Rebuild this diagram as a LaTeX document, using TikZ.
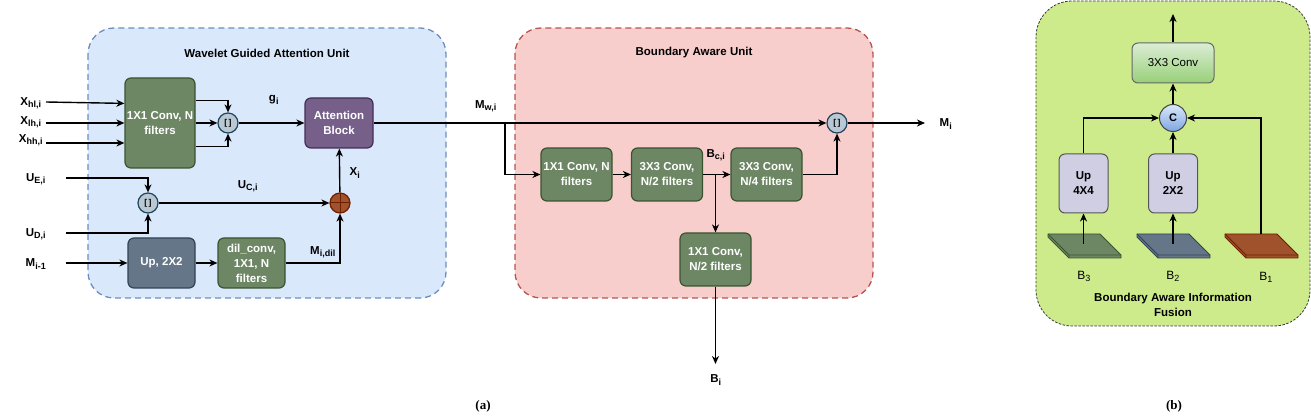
\documentclass[tikz,border=0pt]{standalone}
\usepackage{fontspec}
\setmainfont{Liberation Sans}
\newfontfamily\capfont{Liberation Serif}
\usetikzlibrary{arrows.meta,calc}
\definecolor{bluefill}{HTML}{DAE8FC}
\definecolor{bluestroke}{HTML}{6C8EBF}
\definecolor{redfill}{HTML}{F8CECC}
\definecolor{redstroke}{HTML}{B85450}
\definecolor{limefill}{HTML}{CDEB8B}
\definecolor{limestroke}{HTML}{36393D}
\definecolor{gfill}{HTML}{6D8764}
\definecolor{gstroke}{HTML}{3A5431}
\definecolor{pfill}{HTML}{76608A}
\definecolor{pstroke}{HTML}{432D57}
\definecolor{sfill}{HTML}{647687}
\definecolor{sstroke}{HTML}{314354}
\definecolor{cfill}{HTML}{BAC8D3}
\definecolor{cstroke}{HTML}{23445D}
\definecolor{ofill}{HTML}{A0522D}
\definecolor{ostroke}{HTML}{6D1F00}
\definecolor{lfill}{HTML}{D0CEE2}
\definecolor{lstroke}{HTML}{555555}
\definecolor{convtop}{HTML}{DCEDD6}
\definecolor{convbot}{HTML}{97D077}
\definecolor{convstroke}{HTML}{666666}
\definecolor{balltop}{HTML}{DAE8FC}
\definecolor{ballbot}{HTML}{7EA6E0}
\definecolor{ballstroke}{HTML}{444444}
\tikzset{
  cont/.style={line width=1.3pt, dash pattern=on 6pt off 4pt, rounded corners=26pt},
  blk/.style={rounded corners=6pt, draw, line width=1.2pt, inner sep=0pt, align=center,
     font=\fontsize{11.5}{15}\selectfont\bfseries, text=white},
  gbox/.style={blk, fill=gfill, draw=gstroke},
  rbox/.style={gbox, minimum width=71pt, minimum height=53pt},
  pbox/.style={blk, fill=pfill, draw=pstroke},
  sbox/.style={blk, fill=sfill, draw=sstroke},
  lbox/.style={blk, fill=lfill, draw=lstroke, line width=1pt, text=black, minimum width=49pt, minimum height=59pt, font=\fontsize{11.5}{15}\selectfont\bfseries},
  cat/.style={circle, draw=cstroke, fill=cfill, line width=1.2pt, minimum size=20pt, inner sep=0pt,
     font=\fontsize{8.5}{8.5}\selectfont\bfseries},
  oplus/.style={circle, draw=ostroke, fill=ofill, line width=1.2pt, minimum size=20pt, inner sep=0pt,
     path picture={\draw[ostroke, line width=1pt] (path picture bounding box.north) -- (path picture bounding box.south)
       (path picture bounding box.west) -- (path picture bounding box.east);}},
  lab/.style={font=\fontsize{11.5}{13}\selectfont\bfseries, inner sep=0pt},
  arr/.style={line width=1.4pt, -{Stealth[length=8pt,width=7pt,inset=2.5pt]}},
}
\newcommand{\sbs}[1]{\textsubscript{\fontsize{9}{10}\selectfont #1}}
\begin{document}
\begin{tikzpicture}[x=1pt,y=-1pt]
\useasboundingbox (0,0) rectangle (1311,419);
% containers
\draw[cont, draw=bluestroke, fill=bluefill] (88,28) rectangle (446,298);
\draw[cont, draw=redstroke, fill=redfill] (515,28) rectangle (873,298);
\draw[line width=0.8pt, dash pattern=on 2.5pt off 1.5pt, rounded corners=36pt, draw=limestroke, fill=limefill] (1036,1) rectangle (1310,326);
\node[lab] (t1) at (267,53) {Wavelet Guided Attention Unit};
\node[lab] (t2) at (694,53) {Boundary Aware Unit};
% ---- wavelet unit
\node[gbox, minimum width=70pt, minimum height=90pt] (c1) at (160,123) {1X1 Conv, N\\filters};
\node[cat] (cat1) at (228,123) {[\,]};
\node[pbox, minimum width=68pt, minimum height=50pt] (att) at (339,123) {Attention\\Block};
\node[cat] (cat2) at (148,203) {[\,]};
\node[oplus] (op) at (340,203) {};
\node[sbox, minimum width=67pt, minimum height=50pt] (up) at (161.5,263) {Up, 2X2};
\node[gbox, minimum width=67pt, minimum height=50pt] (dil) at (251.5,263) {dil\_conv,\\1X1, N\\filters};
% inputs
\coordinate (xhl) at (46,102);
\coordinate (xlh) at (46,123);
\coordinate (xhh) at (46,143);
\coordinate (ue) at (66,178);
\coordinate (ud) at (66,233);
\coordinate (mim) at (66,263);
\node[lab] (lxhl) at (31,103) {X\sbs{hl,i}};
\node[lab] (lxlh) at (31,122) {X\sbs{lh,i}};
\node[lab] (lxhh) at (31,140) {X\sbs{hh,i}};
\node[lab] (lue) at (36,179) {U\sbs{E,i}};
\node[lab] (lud) at (36,234) {U\sbs{D,i}};
\node[lab] (lmim) at (36,264) {M\sbs{i-1}};
\draw[arr] (xhl) -- ($(c1.north west)+(0,26)$);
\draw[arr] (xlh) -- (xlh -| c1.west);
\draw[arr] (xhh) -- (xhh -| c1.west);
\draw[arr] ($(c1.north east)+(0,23)$) -| (cat1.north);
\draw[arr] (c1.east) -- (cat1.west);
\draw[arr] ($(c1.south east)+(0,-22)$) -| (cat1.south);
\draw[arr] (cat1) -- (att);
\node[lab] (lg) at (274,100) {g\sbs{i}};
\draw[arr] (ue) -| (cat2.north);
\draw[arr] (ud) -| (cat2.south);
\draw[arr] (cat2) -- (op);
\node[lab] (luc) at (248,186) {U\sbs{C,i}};
\draw[arr] (op) -- (att);
\node[lab] (lxi) at (355,173) {X\sbs{i}};
\draw[arr] (mim) -- (up);
\draw[arr] (up) -- (dil);
\draw[arr] (dil.east) -| (op.south);
\node[lab] (lmd) at (323,252) {M\sbs{i,dil}};
% ---- boundary unit
\node[cat] (cat3) at (837,123) {[\,]};
\node[rbox] (b1) at (576.5,174.5) {1X1 Conv, N\\filters};
\node[rbox] (b2) at (667,174.5) {3X3 Conv,\\N/2 filters};
\node[rbox] (b3) at (766.5,174.5) {3X3 Conv,\\N/4 filters};
\node[rbox] (b4) at (715.5,259.5) {1X1 Conv,\\N/2 filters};
\draw[arr, line width=2pt] (att.east) -- (cat3.west);
\node[lab] (lmw) at (486,106) {M\sbs{w,i}};
\coordinate (br) at (505,123);
\draw[arr] (br) |- (b1.west);
\draw[arr] (b1) -- (b2);
\draw[arr] (b2) -- (b3);
\coordinate (bc) at (b2.east -| b4.north);
\draw[arr] (bc) -- (b4.north);
\node[lab] (lbc) at (716,155) {B\sbs{c,i}};
\draw[arr] (b3.east) -| (cat3.south);
\coordinate (mout) at (925,123);
\draw[arr] (cat3) -- (mout);
\node[lab] (lmi) at (946,124) {M\sbs{i}};
\coordinate (bout) at (715.5,364);
\draw[arr] (b4.south) -- (bout);
\node[lab] (lbi) at (716,380) {B\sbs{i}};
\node[font=\capfont\fontsize{13}{15}\selectfont\bfseries, inner sep=0pt] (cap1) at (483,406) {(a)};
\node[font=\capfont\fontsize{13}{15}\selectfont\bfseries, inner sep=0pt] (cap2) at (1174,406) {(b)};
% ---- fusion panel
\node[blk, top color=convtop, bottom color=convbot, draw=convstroke, line width=1pt, text=black, minimum width=82pt, minimum height=40pt,
  font=\fontsize{11.5}{13}\selectfont] (c33) at (1173,63) {3X3 Conv};
\node[circle, draw=ballstroke, line width=1pt, top color=balltop, bottom color=ballbot, minimum size=27pt, inner sep=0pt,
  font=\fontsize{11}{12}\selectfont\bfseries] (cc) at (1173,118) {C};
\node[lbox] (u4) at (1083.5,183.5) {Up\\4X4};
\node[lbox] (u2) at (1173,183.5) {Up\\2X2};
\coordinate (outb) at (1173,14);
\draw[arr] (c33.north) -- (outb);
\draw[arr] (cc) -- (c33);
\draw[arr] (u4.north) |- (cc.west);
\draw[arr] (u2) -- (cc);
\foreach \x/\f/\s in {1048/gfill/gstroke, 1137/sfill/sstroke, 1225/ofill/ostroke} {
  \draw[fill=\f, draw=\s, line width=0.8pt, line join=round] (\x,234) -- (\x+52,234) -- (\x+73,255) -- (\x+73,258) -- (\x+21,258) -- (\x,237) -- cycle;
  \draw[draw=\s, line width=0.8pt] (\x,234) -- (\x+21,255) -- (\x+73,255) (\x+21,255) -- (\x+21,258);
}
\coordinate (p3) at (1083.5,244);
\coordinate (p2) at (1173,244);
\coordinate (p1) at (1261,234);
\draw[arr] (p3) -- (u4.south);
\draw[arr] (p2) -- (u2.south);
\draw[arr] (p1) |- (cc.east);
\node[font=\fontsize{12}{13}\selectfont, inner sep=0pt] (lb3) at (1084,276) {B\sbs{3}};
\node[font=\fontsize{12}{13}\selectfont, inner sep=0pt] (lb2) at (1173,276) {B\sbs{2}};
\node[font=\fontsize{12}{13}\selectfont, inner sep=0pt] (lb1) at (1266,277) {B\sbs{1}};
\node[lab, align=center, font=\fontsize{11.5}{15.5}\selectfont\bfseries] (tb) at (1173,305) {Boundary Aware Information\\Fusion};
\end{tikzpicture}
\end{document}
